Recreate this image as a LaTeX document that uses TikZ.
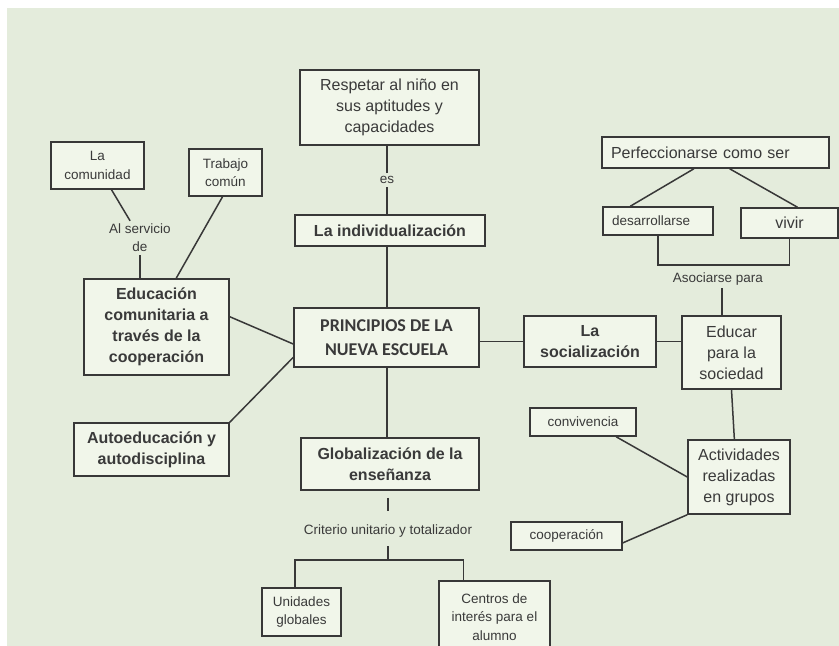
\documentclass[tikz,border=0pt]{standalone}
\usepackage{fontspec}
\setmainfont{Liberation Sans}
\newfontfamily\carlitofont{Carlito}
\usetikzlibrary{positioning}
\definecolor{cbg}{HTML}{E4ECDC}
\definecolor{cbox}{HTML}{F1F6EA}
\definecolor{cline}{HTML}{383838}
\definecolor{ctext}{HTML}{3A3A3A}

\begin{document}
\begin{tikzpicture}[x=1pt, y=-1pt,
  box/.style={draw=cline, fill=cbox, line width=1.5pt, inner sep=2pt,
              align=center, text=ctext},
  boxbold/.style={box, font=\fontsize{16}{21}\selectfont\bfseries},
  boxprin/.style={box, font=\fontsize{18}{24}\selectfont\carlitofont\bfseries},
  boxplain/.style={box, font=\fontsize{16}{21}\selectfont},
  boxsmall/.style={box, font=\fontsize{13.5}{18.5}\selectfont},
  lbl/.style={font=\fontsize{13.5}{18}\selectfont, text=ctext, align=center,
              inner sep=3pt},
  con/.style={draw=cline, line width=1.5pt}
]

%% Background
\fill[cbg] (0,0) rectangle (839,646);
\fill[white] (0,0) rectangle (839,8);
\fill[white] (0,0) rectangle (7,646);
\useasboundingbox (0,0) rectangle (839,646);

%% Central column
\node[boxplain, minimum width=179, minimum height=75] (resp) at (389.5,107.5)
  {Respetar al niño en\\sus aptitudes y\\capacidades};
\node[lbl] (es) at (387,180) {es};
\node[boxbold, minimum width=190, minimum height=31] (indiv) at (390,230.5)
  {La individualización};
\node[boxprin, minimum width=185, minimum height=59] (princ) at (386.5,337.5)
  {PRINCIPIOS DE LA\\NUEVA ESCUELA};
\node[boxbold, minimum width=178, minimum height=52] (glob) at (390,464)
  {Globalización de la\\enseñanza};
\node[lbl] (crit) at (388,531) {Criterio unitario y totalizador};
\coordinate (fork) at (388,560);
\node[boxsmall, minimum width=79, minimum height=48] (unid) at (301.5,612)
  {Unidades\\globales};
\node[boxsmall, minimum width=111, minimum height=72] (cent) at (494.5,617)
  {Centros de\\interés para el\\alumno};

%% Left branch
\node[boxsmall, minimum width=93, minimum height=47] (comun) at (97.5,165.5)
  {La\\comunidad};
\node[boxsmall, minimum width=73, minimum height=47] (trab) at (225.5,172.5)
  {Trabajo\\común};
\node[lbl] (serv) at (140,238) {Al servicio\\de};
\node[boxbold, minimum width=145, minimum height=96] (educ) at (156.5,327)
  {Educación\\comunitaria a\\través de la\\cooperación};
\node[boxbold, minimum width=155, minimum height=53] (auto) at (151.5,449.5)
  {Autoeducación y\\autodisciplina};

%% Right branch
\node[boxplain, minimum width=227, minimum height=31, text width=209,
      align=left] (perf) at (715.5,152.5) {Perfeccionarse como ser};
\node[boxsmall, minimum width=110, minimum height=28, text width=92,
      align=left] (desa) at (658,221) {desarrollarse};
\node[boxplain, minimum width=97, minimum height=30] (vivir) at (789.5,223)
  {vivir};
\coordinate (brk) at (722,265);
\node[lbl] (asoc) at (718,279) {Asociarse para};
\node[boxbold, minimum width=132, minimum height=51] (soci) at (590,341.5)
  {La\\socialización};
\node[boxplain, minimum width=99, minimum height=73] (educar) at (731.5,352.5)
  {Educar\\para la\\sociedad};
\node[boxplain, minimum width=102, minimum height=74] (activ) at (739,477)
  {Actividades\\realizadas\\en grupos};
\node[boxsmall, minimum width=106, minimum height=28] (conv) at (583,422)
  {convivencia};
\node[boxsmall, minimum width=111, minimum height=28] (coop) at (566.5,536)
  {cooperación};

%% Central links
\draw[con] (es.north) -- (es.north |- resp.south);
\draw[con] (es.south) -- (es.south |- indiv.north);
\draw[con] (indiv.south -| es) -- (princ.north -| es);
\draw[con] (princ.south -| es) -- (glob.north -| es);
\draw[con, shorten <=7pt, shorten >=11pt] (glob.south -| crit) -- (crit.north);
\draw[con, shorten <=6pt] (crit.south) -- (fork);
\draw[con] (unid.105) |- (fork) -| (cent.130);

%% Left links
\draw[con] (comun.-60) -- (serv.120);
\draw[con] (serv.south) -- (serv.south |- educ.north);
\draw[con] (trab.-97) -- (educ.68);
\draw[con] (educ.8) -- (princ.184);
\draw[con] (auto.north east) -- (princ.192);

%% Right links
\draw[con] (perf.-143) -- (desa.152);
\draw[con] (perf.-49) -- (vivir.63);
\draw[con] (desa.south) |- (brk) -| (vivir.south);
\draw[con] (asoc.south -| brk) -- (educar.north -| brk);
\draw[con] (soci.west) -- (soci.west -| princ.east);
\draw[con] (soci.east) -- (soci.east -| educar.west);
\draw[con] (educar.south) -- (activ.97);
\draw[con] (conv.-24) -- (activ.west);
\draw[con] (coop.-7) -- (activ.south west);

\end{tikzpicture}
\end{document}
